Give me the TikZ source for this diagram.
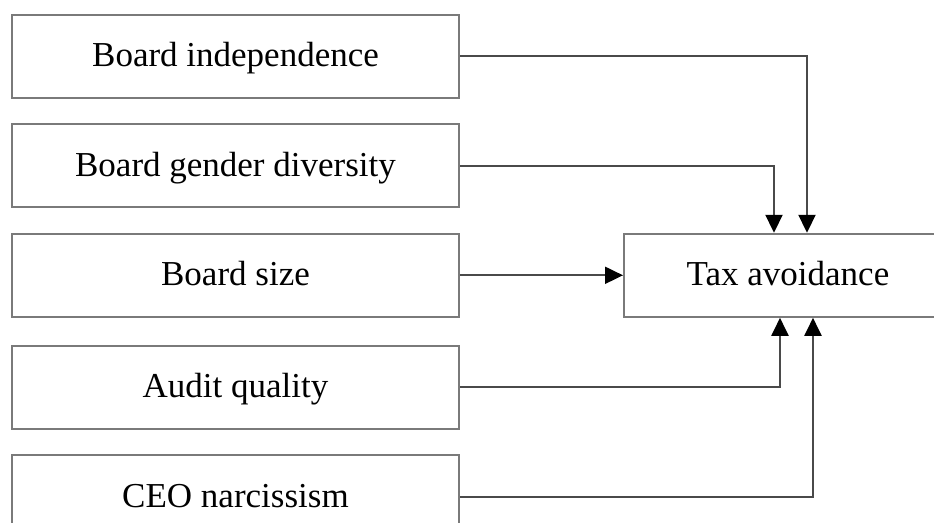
\documentclass[tikz,border=0pt]{standalone}
\usepackage{xcolor}
\usepackage{fontspec}
\setmainfont{Liberation Serif}
\usepackage{tikz}
\usetikzlibrary{arrows.meta,positioning}

\definecolor{boxline}{HTML}{7A7A7A}
\definecolor{connline}{HTML}{4A4A4A}

\begin{document}
\begin{tikzpicture}[node distance=12.2pt,
    factor/.style={rectangle,draw=boxline,line width=1pt,fill=white,
                  minimum width=223.5pt,minimum height=41.5pt,align=center,
                  text height=13pt,text depth=2.5pt,
                  font=\fontsize{17.5}{21}\selectfont},
    outcome/.style={factor,minimum width=164pt},
    conn/.style={-{Triangle[length=9pt,width=8.5pt,black]},line width=1pt,connline}]
\clip (0,0) rectangle (467pt,-261.5pt);
\node[factor] (bi) at (117.75pt,-28.25pt) {Board independence};
\node[factor,below=of bi] (bgd) {Board gender diversity};
\node[factor,below=of bgd] (bs) {Board size};
\node[factor,below=13.5pt of bs] (aq) {Audit quality};
\node[factor,below=of aq] (ceo) {CEO narcissism};
\node[outcome,right=81.5pt of bs] (tax) {Tax avoidance};
\draw[conn] (bi.east) -| ([xshift=9.5pt]tax.north);
\draw[conn] (bgd.east) -| ([xshift=-7pt]tax.north);
\draw[conn] (bs) -- (tax);
\draw[conn] (aq.east) -| ([xshift=-4pt]tax.south);
\draw[conn] (ceo.east) -| ([xshift=12.5pt]tax.south);
\end{tikzpicture}
\end{document}
